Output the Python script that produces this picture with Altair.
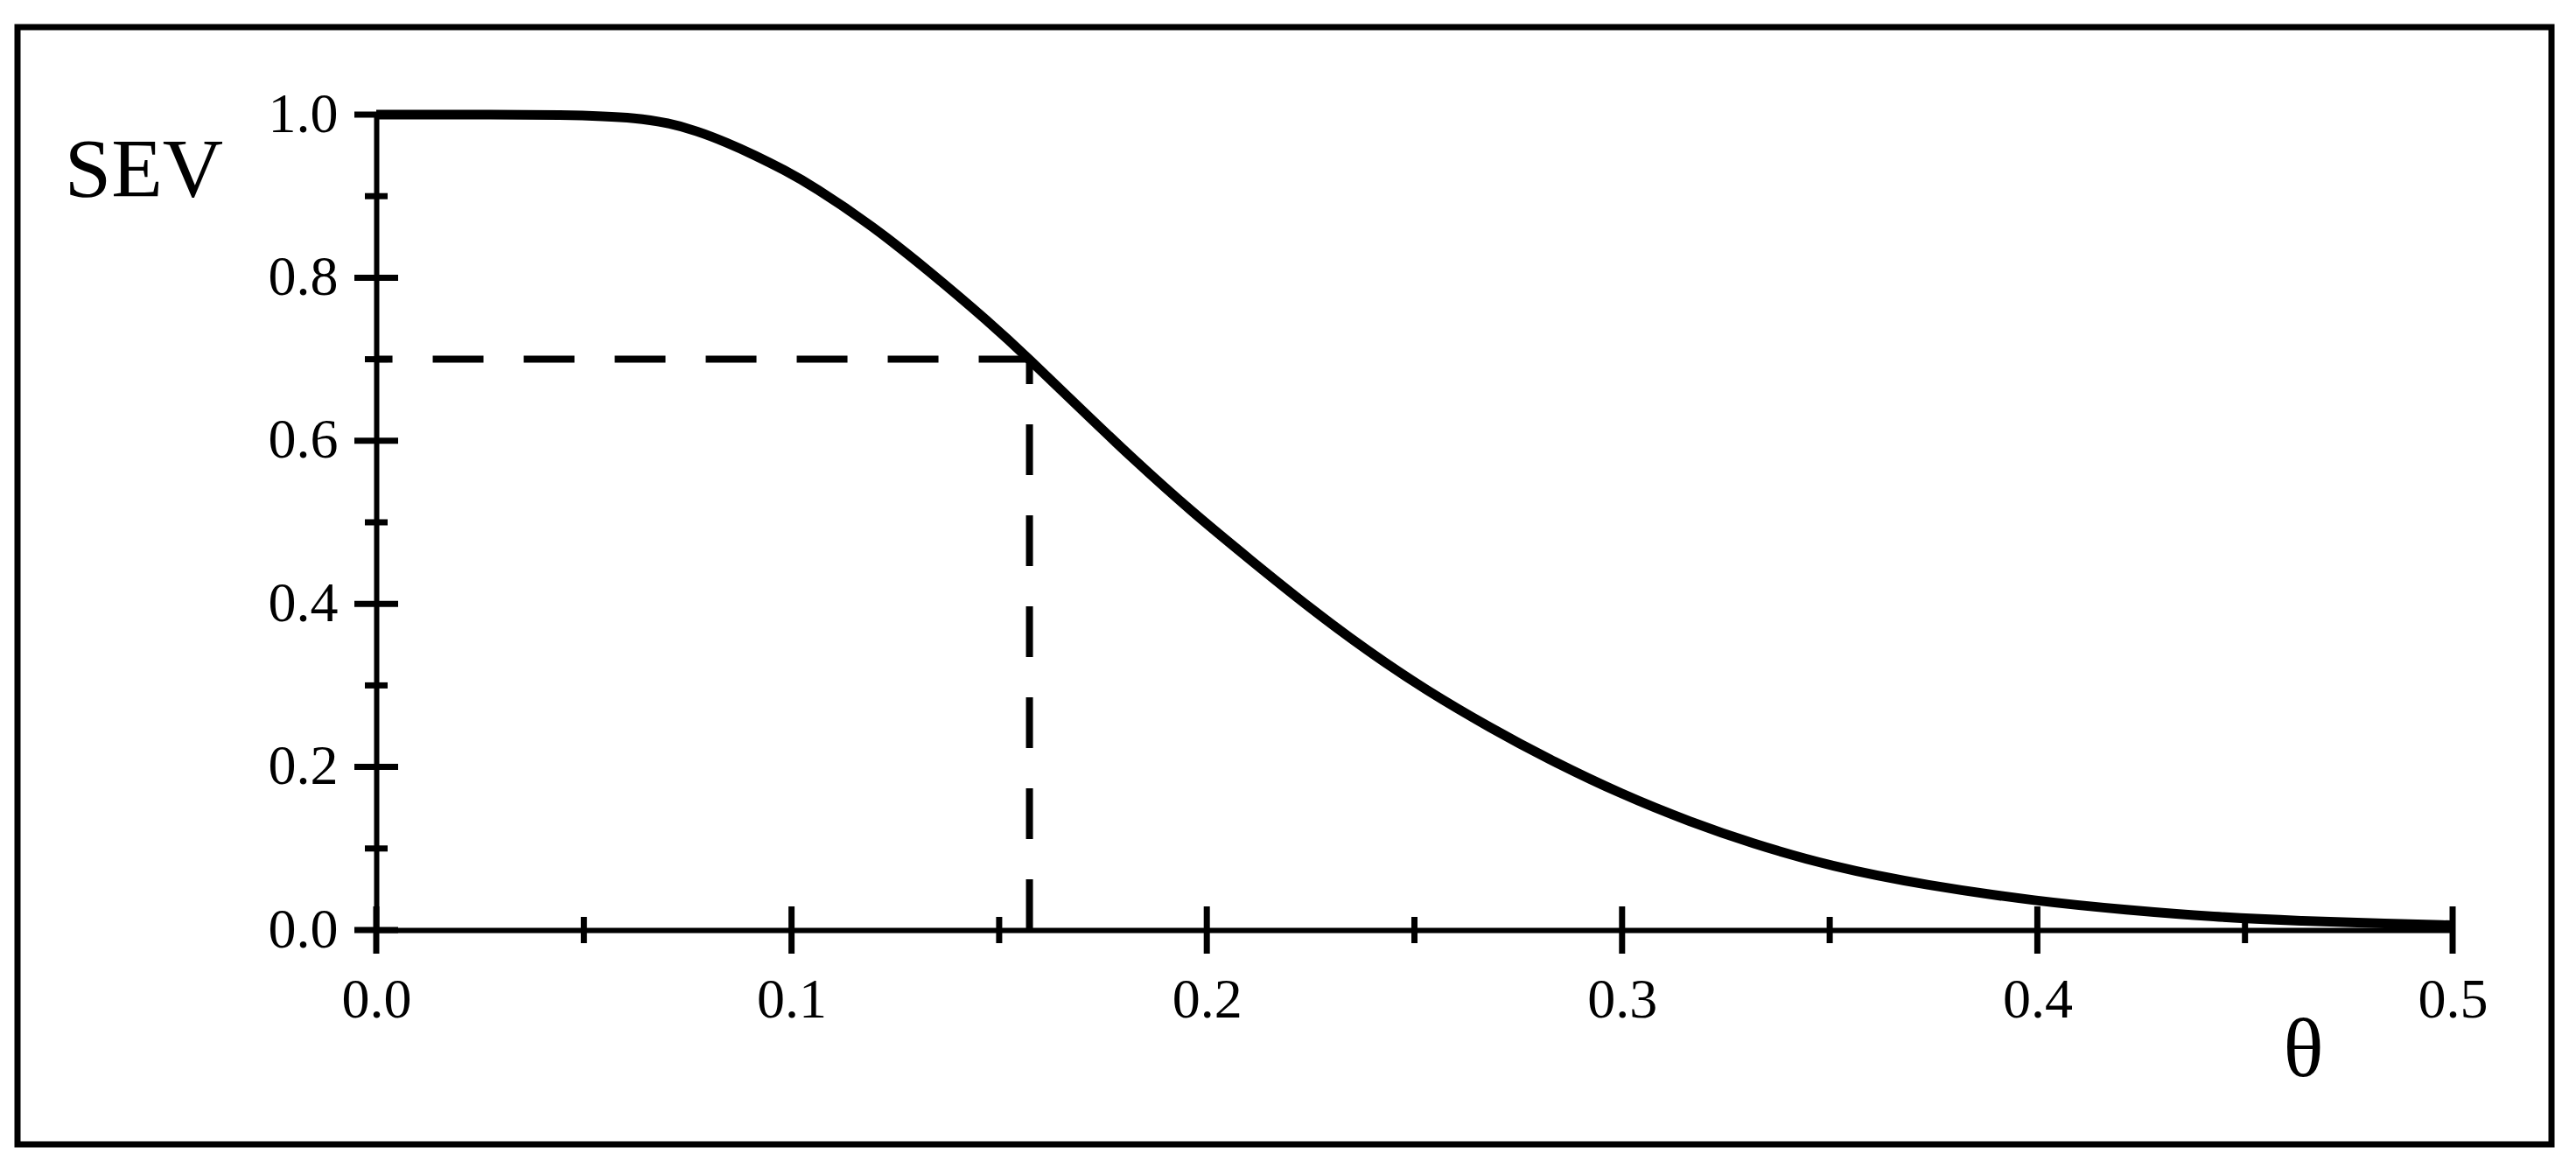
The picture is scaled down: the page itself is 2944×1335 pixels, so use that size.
import altair as alt
import pandas as pd

# Curve
theta = [0.0, 0.03, 0.045, 0.055, 0.062, 0.0695, 0.0773, 0.0843, 0.0913, 0.0983,
         0.1053, 0.1194, 0.1334, 0.1475, 0.1573, 0.1686, 0.1826, 0.1966, 0.2107,
         0.2248, 0.2388, 0.2528, 0.2686, 0.2817, 0.30, 0.3167, 0.3308, 0.3505,
         0.373, 0.4003, 0.4214, 0.4425, 0.4635, 0.4846, 0.5]
sev = [1.0, 1.0, 0.9995, 0.998, 0.996, 0.991, 0.980, 0.966, 0.950, 0.932,
       0.912, 0.864, 0.807, 0.746, 0.700, 0.644, 0.576, 0.512, 0.453,
       0.395, 0.342, 0.294, 0.247, 0.211, 0.166, 0.132, 0.107, 0.0776,
       0.055, 0.035, 0.0247, 0.0160, 0.0110, 0.0080, 0.0058]

# Reference point (dashed guides)
crit_theta = [0.1573]
crit_sev = [0.7]

# Axis ticks
x_major = [0.0, 0.1, 0.2, 0.3, 0.4, 0.5]
x_minor = [0.05, 0.15, 0.25, 0.35, 0.45]
y_major = [0.0, 0.2, 0.4, 0.6, 0.8, 1.0]
y_minor = [0.1, 0.3, 0.5, 0.7, 0.9]

FONT = "Liberation Serif"
W, H = 2373, 932

curve_df = pd.DataFrame({"theta": theta, "sev": sev})
crit_df = pd.DataFrame({"theta": crit_theta, "sev": crit_sev, "zero": [0.0]})

xscale = alt.Scale(domain=[0, 0.5], nice=False, zero=False)
yscale = alt.Scale(domain=[0, 1], nice=False, zero=False)

XAXIS = alt.Axis(
    values=x_major, format=".1f", ticks=False, tickSize=0, grid=False,
    domain=True, domainColor="black", domainWidth=6,
    labelFont=FONT, labelFontSize=64, labelColor="black", labelPadding=48,
    labelFlush=False, labelOverlap=False,
    title="θ", titleFont=FONT, titleFontSize=96, titleFontWeight="normal",
    titleColor="black", titleX=2202, titleY=137, titleAlign="center",
    titleBaseline="middle")
YAXIS = alt.Axis(
    values=y_major, format=".1f", ticks=False, tickSize=0, grid=False,
    domain=True, domainColor="black", domainWidth=6,
    labelFont=FONT, labelFontSize=64, labelColor="black", labelPadding=44,
    labelFlush=False, labelOverlap=False,
    title="SEV", titleFont=FONT, titleFontSize=96, titleFontWeight="normal",
    titleColor="black", titleAngle=0, titleX=-266, titleY=64,
    titleAlign="center", titleBaseline="middle")


def X(field):
    return alt.X(field, scale=xscale, axis=XAXIS)


def Y(field):
    return alt.Y(field, scale=yscale, axis=YAXIS)


curve = alt.Chart(curve_df).mark_line(
    color="black", strokeWidth=11, interpolate="basis", strokeCap="butt"
).encode(x=X("theta:Q"), y=Y("sev:Q"))


def xticks(vals, half, width):
    df = pd.DataFrame({"t": vals, "z": [0.0] * len(vals)})
    return alt.Chart(df).mark_rule(
        color="black", strokeWidth=width, yOffset=-half, y2Offset=half
    ).encode(x=X("t:Q"), y=Y("z:Q"), y2=alt.Y2("z"))


def yticks(vals, half, width):
    df = pd.DataFrame({"t": vals, "z": [0.0] * len(vals)})
    return alt.Chart(df).mark_rule(
        color="black", strokeWidth=width, xOffset=-half, x2Offset=half
    ).encode(y=Y("t:Q"), x=X("z:Q"), x2=alt.X2("z"))


hdash = alt.Chart(crit_df).mark_rule(
    color="black", strokeWidth=8, strokeDash=[58, 46], strokeCap="butt"
).encode(x=X("theta:Q"), x2=alt.X2("zero"), y=Y("sev:Q"))

vdash = alt.Chart(crit_df).mark_rule(
    color="black", strokeWidth=8, strokeDash=[58, 46], strokeCap="butt"
).encode(x=X("theta:Q"), y=Y("zero:Q"), y2=alt.Y2("sev"))

frame = alt.Chart(pd.DataFrame({"a": [0]})).mark_rect(
    fill="white", fillOpacity=0, stroke="black", strokeWidth=7
).encode(
    x=alt.value(-410), x2=alt.value(2486),
    y=alt.value(-100), y2=alt.value(1177),
)

chart = alt.layer(
    frame,
    xticks(x_major, 27, 7), xticks(x_minor, 15, 7),
    yticks(y_major, 25, 7), yticks(y_minor, 13, 7),
    hdash, vdash,
    curve,
).properties(
    width=W, height=H,
    autosize=alt.AutoSizeParams(type="none"),
    padding={"left": 422, "top": 123, "right": 130, "bottom": 260},
    background="white",
).configure_view(stroke=None)

chart.save("out.html", embed_options={"renderer": "svg", "actions": False})
